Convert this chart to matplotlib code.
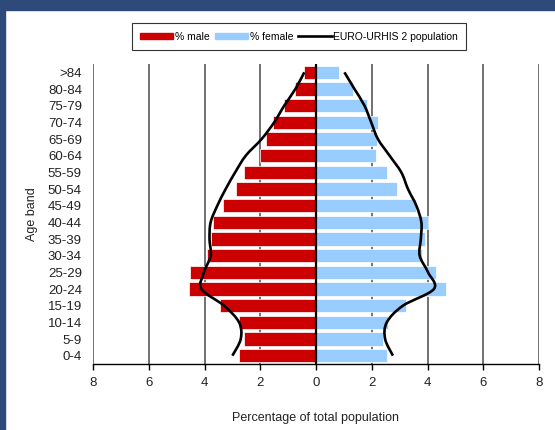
import numpy as np
import matplotlib
matplotlib.use("Agg")
import matplotlib.pyplot as plt
from matplotlib.path import Path
from matplotlib.patches import PathPatch, Rectangle
from matplotlib.lines import Line2D
from matplotlib.patches import Patch

ages = ['0-4', '5-9', '10-14', '15-19', '20-24', '25-29', '30-34', '35-39', '40-44',
        '45-49', '50-54', '55-59', '60-64', '65-69', '70-74', '75-79', '80-84', '>84']
male = [2.75, 2.57, 2.75, 3.43, 4.57, 4.52, 3.92, 3.77, 3.71,
        3.32, 2.87, 2.60, 2.01, 1.79, 1.55, 1.16, 0.74, 0.42]
female = [2.55, 2.42, 2.59, 3.23, 4.68, 4.30, 3.82, 3.90, 4.00,
          3.58, 2.90, 2.55, 2.15, 2.19, 2.23, 1.83, 1.34, 0.84]
ref_male = [3.00, 2.70, 2.76, 3.30, 4.11, 4.02, 3.78, 3.82, 3.78,
            3.54, 3.24, 2.90, 2.52, 1.95, 1.50, 1.14, 0.74, 0.42]
ref_female = [2.76, 2.48, 2.54, 3.12, 4.23, 4.02, 3.72, 3.76, 3.78,
              3.60, 3.30, 3.06, 2.64, 2.22, 1.98, 1.74, 1.38, 1.02]
xticks = [-8, -6, -4, -2, 0, 2, 4, 6, 8]

plt.rcParams['font.family'] = ['Liberation Sans', 'DejaVu Sans']

fig = plt.figure(figsize=(5.55, 4.3), dpi=100)
# dark blue frame on top and left
fig.patches.append(Rectangle((0, 1 - 10 / 430), 1, 10 / 430, transform=fig.transFigure,
                             color='#2E4A7A', zorder=0))
fig.patches.append(Rectangle((0, 0), 5 / 555, 1, transform=fig.transFigure,
                             color='#2E4A7A', zorder=0))

ax = fig.add_axes([93 / 555, 1 - 364 / 430, 446 / 555, 300 / 430])
y = np.arange(len(ages))
ax.barh(y, [-v for v in male], height=0.8, color='#CC0000', edgecolor='white', linewidth=0.5, zorder=2)
ax.barh(y, female, height=0.8, color='#99CCFF', edgecolor='white', linewidth=0.5, zorder=2)


def smooth_path(xs, ys):
    pts = np.column_stack([xs, ys])
    n = len(pts)
    verts = [pts[0]]
    codes = [Path.MOVETO]
    for i in range(n - 1):
        p0 = pts[max(i - 1, 0)]
        p1 = pts[i]
        p2 = pts[i + 1]
        p3 = pts[min(i + 2, n - 1)]
        verts += [p1 + (p2 - p0) / 6, p2 - (p3 - p1) / 6, p2]
        codes += [Path.CURVE4] * 3
    return Path(verts, codes)


for xs in ([-v for v in ref_male], ref_female):
    ax.add_patch(PathPatch(smooth_path(np.array(xs), y.astype(float)), facecolor='none',
                           edgecolor='black', linewidth=1.9, zorder=3))

ax.set_xlim(-8, 8)
ax.set_ylim(-0.5, len(ages) - 0.5)
ax.set_yticks(y)
ax.set_yticklabels(ages, fontsize=9.5, color='#222222')
ax.set_xticks(xticks)
ax.set_xticklabels([str(abs(t)) for t in xticks], fontsize=9.5, color='#222222')
ax.tick_params(axis='y', length=0, pad=8)
ax.tick_params(axis='x', direction='out', length=4, width=1, pad=5)
for t in xticks:
    if t == 0:
        ax.axvline(0, color='black', linewidth=1.6, zorder=4)
    else:
        ax.axvline(t, color='#4a4a4a', linewidth=1.1, zorder=1)
for s in ['top', 'right', 'left']:
    ax.spines[s].set_visible(False)
ax.spines['bottom'].set_linewidth(1.0)

ax.set_ylabel('Age band', fontsize=9, labelpad=7, color='#222222')
ax.set_xlabel('Percentage of total population', fontsize=9, labelpad=17, color='#222222')

handles = [Patch(color='#CC0000'), Patch(color='#99CCFF'), Line2D([], [], color='black', linewidth=1.9)]
leg = fig.legend(handles, ['% male', '% female', 'EURO-URHIS 2 population'],
                 loc='center', bbox_to_anchor=(299 / 555, 1 - 36.5 / 430), ncol=3,
                 frameon=True, fancybox=False, edgecolor='black',
                 handlelength=3.2, handleheight=0.55, handletextpad=0.15, columnspacing=0.5,
                 borderpad=0.8, borderaxespad=0,
                 prop={'family': ['Liberation Sans', 'DejaVu Sans'], 'size': 7.5})
leg.get_frame().set_linewidth(0.8)

fig.savefig('out.png', dpi=100)
